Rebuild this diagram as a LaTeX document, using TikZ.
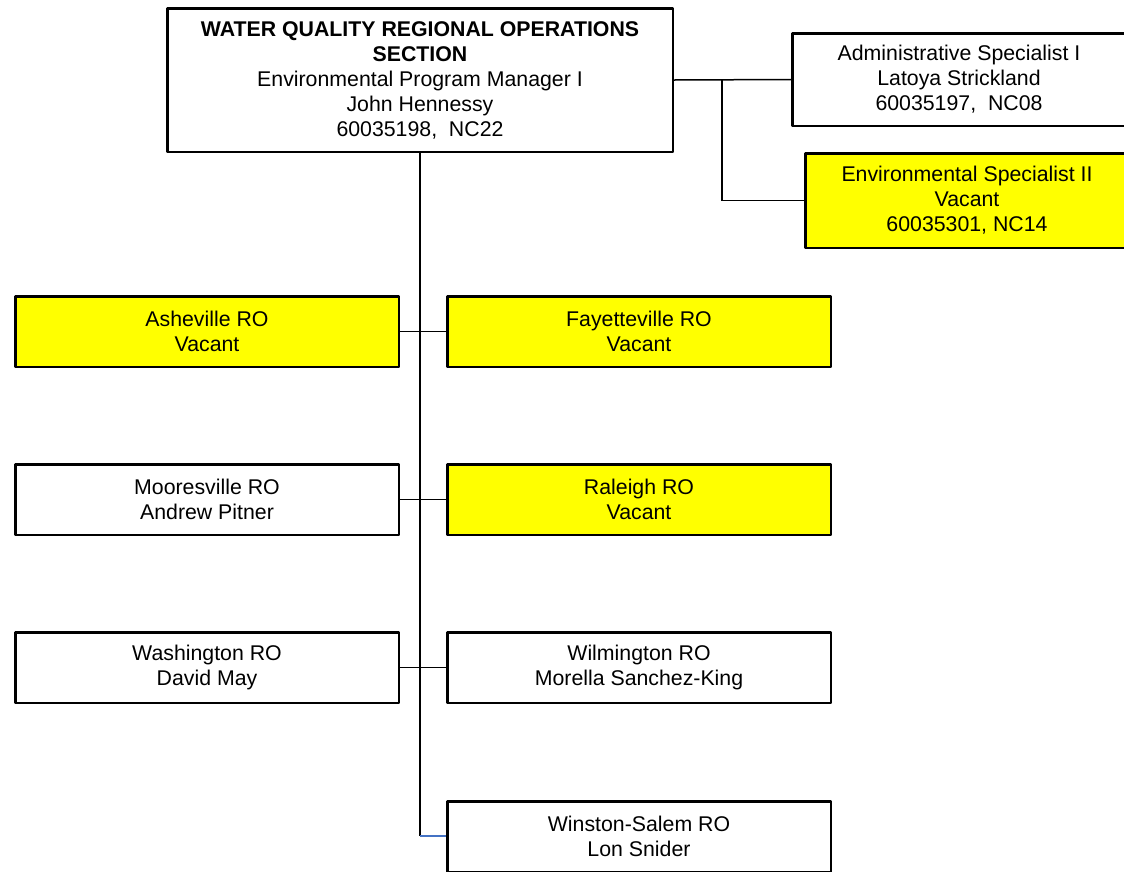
\documentclass[tikz,border=0pt]{standalone}
\usepackage{fontspec}
\setmainfont{Liberation Sans}
\definecolor{boxyellow}{HTML}{FFFF00}
\definecolor{linkblue}{HTML}{4472C4}
\begin{document}
\begin{tikzpicture}[x=1pt,y=1pt,
  box/.style={draw=black,line width=2.5pt,line join=round,fill=white,inner sep=0pt,
    align=center,font=\fontsize{21.3}{25}\selectfont,text=black},
  vac/.style={box,fill=boxyellow},
  ro/.style={minimum width=383.5pt,minimum height=70.5pt},
  link/.style={draw=black,line width=1.5pt}]
\useasboundingbox (0,0) rectangle (1124,-871);
\node[box,minimum width=505.5pt,minimum height=143.5pt] (top) at (420,-80)
  {\textbf{WATER QUALITY REGIONAL OPERATIONS}\\\textbf{SECTION}\\Environmental Program Manager I\\John Hennessy\\60035198,\ \ NC22};
\node[box,minimum width=333.5pt,minimum height=92.5pt] (adm) at (959,-79.5)
  {Administrative Specialist I\\Latoya Strickland\\60035197,\ \ NC08};
\node[vac,minimum width=323.5pt,minimum height=94.5pt] (env) at (967,-200.5)
  {Environmental Specialist II\\Vacant\\60035301, NC14};
\node[vac,ro] (ash) at (207,-331.5) {Asheville RO\\Vacant};
\node[vac,ro] (fay) at (639,-331.5) {Fayetteville RO\\Vacant};
\node[box,ro] (moo) at (207,-499.5) {Mooresville RO\\Andrew Pitner};
\node[vac,ro] (ral) at (639,-499.5) {Raleigh RO\\Vacant};
\node[box,ro] (was) at (207,-667.5) {Washington RO\\David May};
\node[box,ro] (wil) at (639,-667.5) {Wilmington RO\\Morella Sanchez-King};
\node[box,ro] (win) at (639,-836.5) {Winston-Salem RO\\Lon Snider};
\coordinate (j) at (722,-80);
\coordinate (k) at (420,-836);
\draw[link] (top.east) -- (adm.west);
\draw[link] (j) |- (env.west);
\draw[link] (top.south) -- (k);
\draw[link,draw=linkblue] (k) -- (k -| win.west);
\draw[link] (ash.east) -- (fay.west);
\draw[link] (moo.east) -- (ral.west);
\draw[link] (was.east) -- (wil.west);
\end{tikzpicture}
\end{document}
